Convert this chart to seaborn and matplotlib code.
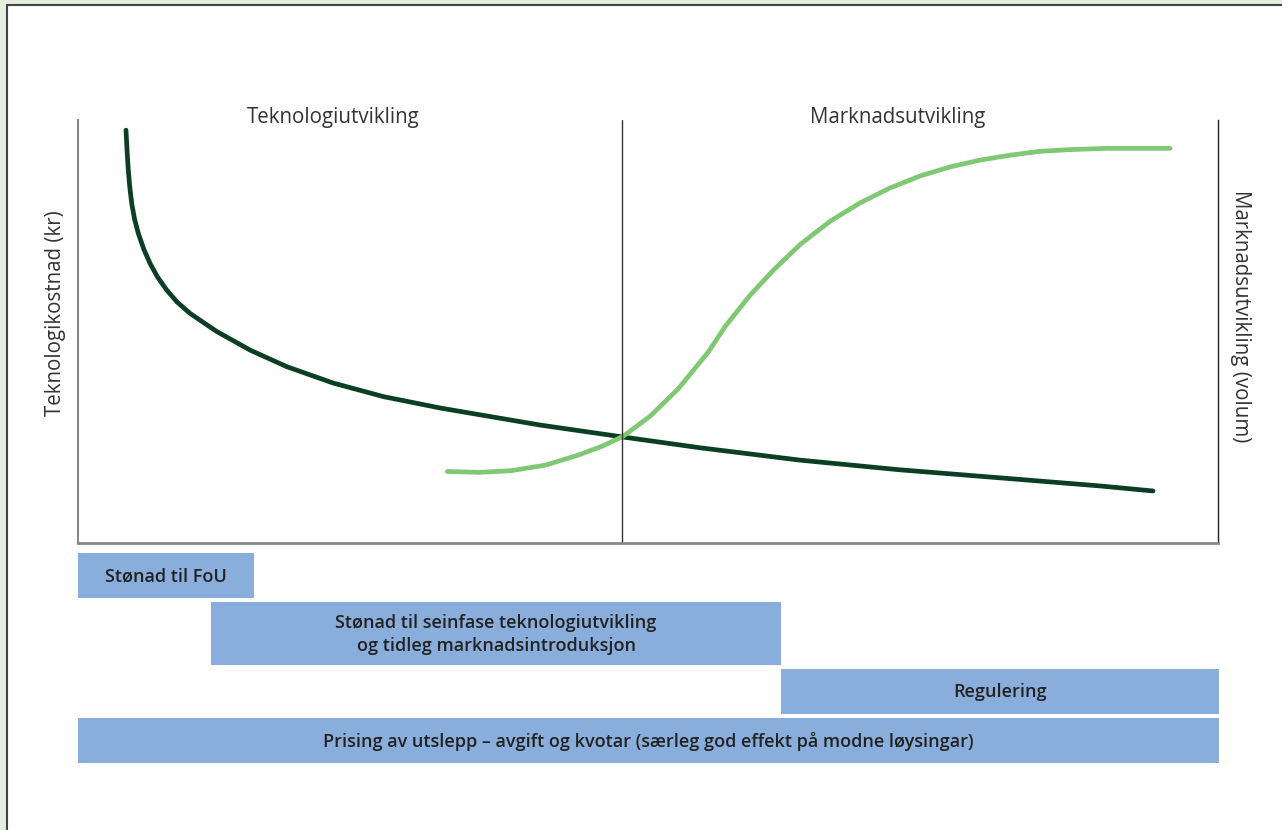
import numpy as np
import pandas as pd
import seaborn as sns
import matplotlib.pyplot as plt
from matplotlib.patches import Rectangle

# data (x: tid 0-100, y: nivå 0-100)
cost_x = [4.21, 4.30, 4.41, 4.54, 4.71, 4.96, 5.29, 5.75, 6.32, 6.97, 7.78, 8.68,
          9.82, 12.17, 15.1, 18.3, 22.4, 26.8, 31.8, 40.5, 47.7, 54.6, 63.3, 72.1,
          80.9, 89.6, 94.3]
cost_y = [97.6, 92.9, 88.2, 84.2, 80.3, 76.6, 73.2, 69.6, 66.1, 62.9, 59.8, 57.0,
          54.3, 50.0, 45.6, 41.7, 37.8, 34.6, 31.9, 27.9, 25.1, 22.5, 19.6, 17.3,
          15.4, 13.5, 12.3]

market_x = [32.4, 35.2, 38.0, 41.0, 43.9, 46.0, 47.8, 50.2, 52.7, 55.3, 56.8, 58.9,
            61.0, 63.4, 66.0, 68.6, 71.2, 73.9, 76.5, 79.1, 81.8, 84.4, 87.0, 90.3, 95.8]
market_y = [16.9, 16.7, 17.1, 18.4, 20.8, 22.9, 25.2, 30.0, 36.6, 45.2, 51.3, 58.4,
            64.5, 70.7, 76.1, 80.4, 83.9, 86.8, 88.9, 90.5, 91.7, 92.6, 93.0, 93.3, 93.3]

phase_split = 47.7
phase_labels = ["Teknologiutvikling", "Marknadsutvikling"]

tool_labels = ["Stønad til FoU",
               "Stønad til seinfase teknologiutvikling\nog tidleg marknadsintroduksjon",
               "Regulering",
               "Prising av utslepp – avgift og kvotar (særleg god effekt på modne løysingar)"]
tool_start = [0, 11.7, 61.6, 0]
tool_end = [15.4, 61.6, 100, 100]

cost = pd.DataFrame({"t": cost_x, "v": cost_y})
market = pd.DataFrame({"t": market_x, "v": market_y})

sns.set_theme(style="white")
plt.rcParams["font.family"] = ["Open Sans", "DejaVu Sans"]

W, H = 1282, 830
fig = plt.figure(figsize=(W / 100, H / 100), dpi=100)
fig.patch.set_facecolor("#e3eedb")

def fx(px):
    return px / W

def fy(py):
    return 1 - py / H

# white panel with dark frame on left/top
fig.patches.append(Rectangle((fx(7), 0), 1 - fx(7), fy(5), transform=fig.transFigure,
                             facecolor="white", edgecolor="none", zorder=-5))
fig.add_artist(plt.Line2D([fx(7), fx(7)], [0, fy(5)], color="#444444", lw=1.5, transform=fig.transFigure))
fig.add_artist(plt.Line2D([fx(7), 1], [fy(5), fy(5)], color="#444444", lw=1.5, transform=fig.transFigure))

ax = fig.add_axes([fx(78), fy(543), (1218 - 78) / W, (543 - 120) / H])
ax.set_facecolor("none")
sns.lineplot(data=cost, x="t", y="v", sort=False, ax=ax, color="#0b3f24", lw=3.4,
             solid_capstyle="round", solid_joinstyle="round")
sns.lineplot(data=market, x="t", y="v", sort=False, ax=ax, color="#80c873", lw=3.4,
             solid_capstyle="round", solid_joinstyle="round")
ax.axvline(phase_split, color="#333333", lw=1)
ax.set_xlim(0, 100)
ax.set_ylim(0, 100)
ax.set_xticks([])
ax.set_yticks([])
ax.set_xlabel("")
ax.set_ylabel("")
ax.spines["top"].set_visible(False)
ax.spines["left"].set_color("#888888")
ax.spines["left"].set_linewidth(1.5)
ax.spines["bottom"].set_color("#888888")
ax.spines["bottom"].set_linewidth(2)
ax.spines["right"].set_color("#222222")
ax.spines["right"].set_linewidth(1)

fig.text(fx(333), fy(118), phase_labels[0], ha="center", va="center", fontsize=14.8, color="#333333")
fig.text(fx(898), fy(118), phase_labels[1], ha="center", va="center", fontsize=14.8, color="#333333")
fig.text(fx(56), fy(313), "Teknologikostnad (kr)", ha="center", va="center", rotation=90,
         fontsize=14.8, color="#333333")
fig.text(fx(1241), fy(316), "Marknadsutvikling (volum)", ha="center", va="center", rotation=270,
         fontsize=14.8, color="#333333")

# policy bars underneath
bar_top = [553, 602, 669, 718]
bar_bottom = [598, 665, 714, 763]
bax = fig.add_axes([fx(78), fy(763), (1219 - 78) / W, (763 - 553) / H])
bax.set_xlim(0, 100)
bax.set_ylim(763, 553)
bax.axis("off")
for lab, s, e, t, b in zip(tool_labels, tool_start, tool_end, bar_top, bar_bottom):
    bax.barh((t + b) / 2, e - s, left=s, height=b - t, color="#8aaedb", linewidth=0,
             clip_on=False)
    bax.text((s + e) / 2, (t + b) / 2 + 1, lab, ha="center", va="center", fontsize=13,
             fontweight="semibold", color="#222222", linespacing=1.3)

fig.savefig("out.png", dpi=100, facecolor=fig.get_facecolor())
